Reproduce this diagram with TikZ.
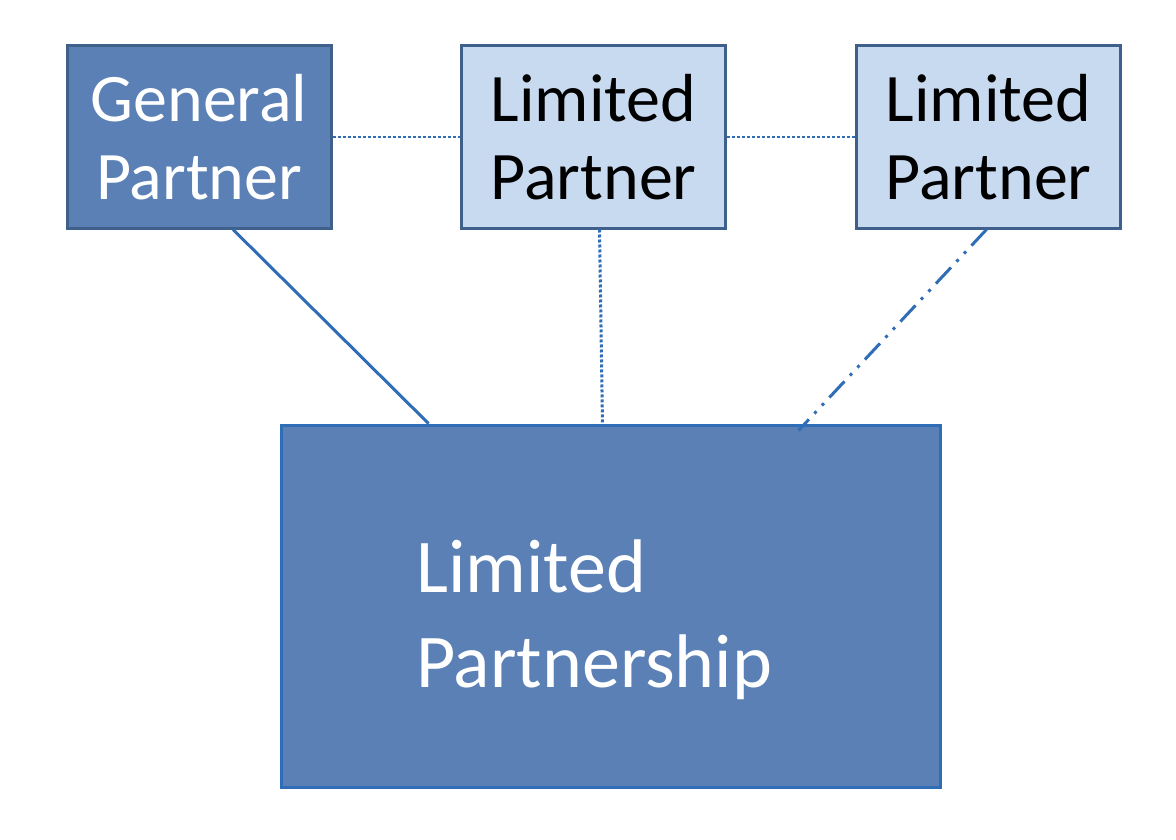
\documentclass[tikz,border=0pt]{standalone}
\usepackage{fontspec}
\setmainfont{Carlito}
\begin{document}
\begin{tikzpicture}[x=1pt,y=-1pt,
  dk/.style={draw=bd,fill=dkf,line width=3pt,minimum width=264pt,minimum height=182pt,text=white,align=center,font=\fontsize{68}{78}\selectfont,inner sep=0pt},
  lt/.style={dk,fill=ltf,text=black},
  ln/.style={draw=lnc,line width=3pt}]
\definecolor{bd}{HTML}{40608C}
\definecolor{dkf}{HTML}{5A80B6}
\definecolor{ltf}{HTML}{C8DAF0}
\definecolor{lnc}{HTML}{2F6DB6}
\useasboundingbox (0,0) rectangle (1176,840);
\node[dk] (gp) at (199,137) {General\\Partner};
\node[lt] (l1) at (593.5,137) {Limited\\Partner};
\node[lt] (l2) at (988.5,137) {Limited\\Partner};
\node[dk,draw=lnc,minimum width=659pt,minimum height=362pt] (lp) at (610.5,606) {};
\node[anchor=north west,text=white,align=left,font=\fontsize{76}{95}\selectfont,inner sep=0pt] (lpt) at (416,540) {Limited\\Partnership};
\draw[ln,dotted,line width=2.5pt] (gp.east) -- (l1.west);
\draw[ln,dotted,line width=2.5pt] (l1.east) -- (l2.west);
\draw[ln] ([xshift=34pt]gp.south) -- ([xshift=-182pt]lp.north);
\draw[ln,dash dot] ([xshift=6pt]l1.south) -- ([xshift=-8pt]lp.north);
\draw[ln,dash pattern=on 22pt off 8pt on 3pt off 8pt on 3pt off 8pt] ([xshift=-2pt]l2.south) -- ([xshift=188pt,yshift=-7pt]lp.north);
\end{tikzpicture}
\end{document}
